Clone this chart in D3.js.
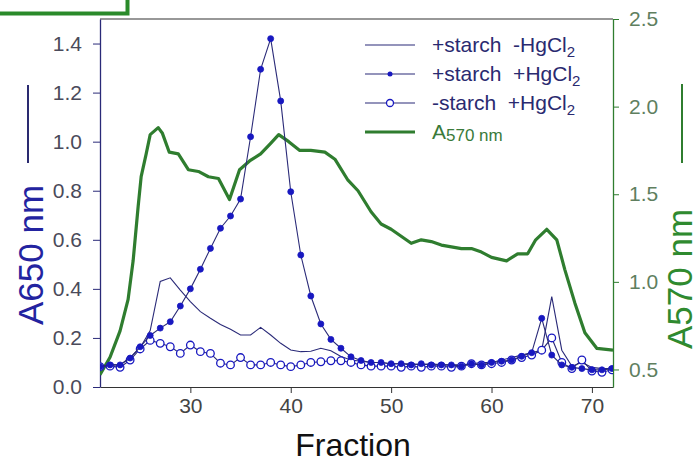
<!DOCTYPE html>
<html><head><meta charset="utf-8">
<script src="https://cdn.jsdelivr.net/npm/d3@7"></script>
<style>body{margin:0;background:#fff;} svg{display:block;font-family:"Liberation Sans",Arial,sans-serif;}</style>
</head><body><svg id="c" width="700" height="462"></svg>
<script>
// ---- data ----
const fractions = [21,22,23,24,25,26,27,28,29,30,31,32,33,34,35,36,37,38,39,40,41,42,43,44,45,46,47,48,49,50,51,52,53,54,55,56,57,58,59,60,61,62,63,64,65,66,67,68,69,70,71,72];
const starchNoHg = [0.083,0.09,0.09,0.12,0.16,0.23,0.43,0.445,0.395,0.348,
  0.307,0.28,0.255,0.235,0.212,0.212,0.243,0.212,0.178,0.151,
  0.144,0.146,0.158,0.148,0.124,0.11,0.105,0.1,0.1,0.095,
  0.095,0.095,0.09,0.095,0.09,0.09,0.09,0.095,0.1,0.1,
  0.11,0.12,0.13,0.14,0.15,0.368,0.15,0.085,0.1,0.08,
  0.075,0.075];
const starchHg = [0.083,0.09,0.09,0.118,0.164,0.21,0.24,0.266,0.33,0.40,
  0.48,0.565,0.647,0.697,0.766,1.02,1.295,1.42,1.166,0.796,
  0.538,0.371,0.257,0.194,0.158,0.123,0.108,0.10,0.10,0.095,
  0.095,0.09,0.095,0.09,0.09,0.09,0.085,0.095,0.09,0.10,
  0.105,0.11,0.125,0.14,0.28,0.13,0.09,0.08,0.075,0.07,
  0.07,0.075];
const noStarchHg = [0.083,0.085,0.08,0.11,0.155,0.19,0.178,0.164,0.137,0.171,
  0.144,0.137,0.097,0.09,0.12,0.09,0.09,0.10,0.09,0.083,
  0.09,0.10,0.103,0.107,0.107,0.10,0.09,0.085,0.085,0.085,
  0.08,0.085,0.08,0.085,0.085,0.08,0.085,0.095,0.09,0.095,
  0.10,0.11,0.12,0.13,0.15,0.20,0.10,0.075,0.11,0.065,
  0.06,0.07];
const a570Fraction = [21,22,23,23.8,24.3,24.8,25.1,25.6,26,26.8,27.2,27.9,28.8,29.8,30.8,31.8,32.8,33.9,34.9,35.9,37,38,38.8,39.8,40.9,42,43.4,44.4,45.7,46.7,48,49,50,51,52,53,54,55,56,57,58,59,60,61.5,62.6,63.6,64.4,65.5,66.5,67.3,68.3,69.3,70.5,72.1];
const a570Values = [0.47,0.57,0.72,0.9,1.12,1.43,1.6,1.73,1.84,1.88,1.85,1.74,1.73,1.64,1.63,1.60,1.59,1.47,1.64,1.69,1.73,1.79,1.84,1.80,1.75,1.75,1.74,1.70,1.58,1.52,1.40,1.33,1.30,1.26,1.22,1.24,1.23,1.21,1.20,1.19,1.19,1.17,1.14,1.12,1.16,1.16,1.24,1.30,1.24,1.07,0.88,0.71,0.62,0.61];
const xTicks = [30,40,50,60,70];
const leftTicks = [0.0,0.2,0.4,0.6,0.8,1.0,1.2,1.4];
const rightTicks = [0.5,1.0,1.5,2.0,2.5];

// ---- layout ----
const svg = d3.select("#c");
const L = 100, R = 613, T = 19, B = 387;
const navy = "#2a2a78", blue = "#1818c0", green = "#2f7d2f";
const x = d3.scaleLinear().domain([21, 72.1]).range([L, R]);
const yL = d3.scaleLinear().domain([0, 1.5]).range([B, T]);
const yR = d3.scaleLinear().domain([0.4, 2.5]).range([B, T]);

// top-left green box fragment
svg.append("rect").attr("x", -10).attr("y", -10).attr("width", 137.5).attr("height", 23.5)
  .attr("fill", "none").attr("stroke", "#2a8a2a").attr("stroke-width", 4);

// frame top
svg.append("line").attr("x1", L).attr("x2", R).attr("y1", T).attr("y2", T).attr("stroke", "#333").attr("stroke-width", 1.2);

// axes
const ax = svg.append("g").attr("transform", `translate(0,${B})`)
  .call(d3.axisBottom(x).tickValues(xTicks).tickSize(6).tickSizeOuter(0).tickPadding(5).tickFormat(d3.format("d")));
ax.select(".domain").attr("stroke", "#333").attr("stroke-width", 1.2);
ax.selectAll(".tick line").attr("stroke", "#333");
ax.selectAll("text").attr("font-size", 21).attr("fill", "#444").attr("font-family", "Liberation Sans, Arial, sans-serif");

const ayl = svg.append("g").attr("transform", `translate(${L},0)`)
  .call(d3.axisLeft(yL).tickValues(leftTicks).tickSize(7).tickSizeOuter(0).tickPadding(11).tickFormat(d3.format(".1f")));
ayl.select(".domain").attr("stroke", navy).attr("stroke-width", 1.3);
ayl.selectAll(".tick line").attr("stroke", navy);
ayl.selectAll("text").attr("font-size", 21).attr("fill", "#4a4a5a").attr("font-family", "Liberation Sans, Arial, sans-serif");

const ayr = svg.append("g").attr("transform", `translate(${R},0)`)
  .call(d3.axisRight(yR).tickValues(rightTicks).tickSize(6).tickSizeOuter(0).tickPadding(10).tickFormat(d3.format(".1f")));
ayr.select(".domain").attr("stroke", green).attr("stroke-width", 1.3);
ayr.selectAll(".tick line").attr("stroke", green);
ayr.selectAll("text").attr("font-size", 21).attr("fill", "#5f7f5f").attr("font-family", "Liberation Sans, Arial, sans-serif");

// clip
svg.append("clipPath").attr("id", "clip").append("rect").attr("x", L).attr("y", T).attr("width", R - L).attr("height", B - T);
const plot = svg.append("g").attr("clip-path", "url(#clip)");

// green A570
const gLine = d3.line().x((d, i) => x(a570Fraction[i])).y(d => yR(d));
plot.append("path").datum(a570Values).attr("d", gLine).attr("fill", "none").attr("stroke", green).attr("stroke-width", 3.2).attr("stroke-linejoin", "round");

const bLine = d3.line().x((d, i) => x(fractions[i])).y(d => yL(d));
// series 1: +starch -HgCl2
plot.append("path").datum(starchNoHg).attr("d", bLine).attr("fill", "none").attr("stroke", navy).attr("stroke-width", 1.1);
// series 3: -starch +HgCl2
plot.append("path").datum(noStarchHg).attr("d", bLine).attr("fill", "none").attr("stroke", navy).attr("stroke-width", 1.1);
plot.selectAll("circle.s3").data(noStarchHg).enter().append("circle").attr("class", "s3")
  .attr("cx", (d, i) => x(fractions[i])).attr("cy", d => yL(d)).attr("r", 3.8)
  .attr("fill", "#fff").attr("stroke", blue).attr("stroke-width", 1.3);
// series 2: +starch +HgCl2
plot.append("path").datum(starchHg).attr("d", bLine).attr("fill", "none").attr("stroke", navy).attr("stroke-width", 1.1);
plot.selectAll("circle.s2").data(starchHg).enter().append("circle").attr("class", "s2")
  .attr("cx", (d, i) => x(fractions[i])).attr("cy", d => yL(d)).attr("r", 3)
  .attr("fill", blue).attr("stroke", blue).attr("stroke-width", 0.8);

// legend
const legendLabels = ["+starch  -HgCl", "+starch  +HgCl", "-starch  +HgCl", "A"];
const lg = svg.append("g");
const rowY = [45, 74, 103, 132];
legendLabels.forEach((lab, i) => {
  const y = rowY[i];
  const col = i === 3 ? green : navy;
  lg.append("line").attr("x1", 365).attr("x2", 415).attr("y1", y).attr("y2", y)
    .attr("stroke", col).attr("stroke-width", i === 3 ? 3.2 : 1.1);
  if (i === 1) lg.append("circle").attr("cx", 390).attr("cy", y).attr("r", 2.5).attr("fill", blue);
  if (i === 2) lg.append("circle").attr("cx", 390).attr("cy", y).attr("r", 3.5).attr("fill", "#fff").attr("stroke", blue).attr("stroke-width", 1.3);
  const t = lg.append("text").attr("x", 432).attr("y", y + 7).attr("font-size", 21)
    .attr("fill", i === 3 ? "#3a7a3a" : "#2a2a70").style("white-space", "pre").text(lab);
  if (i < 3) t.append("tspan").attr("font-size", 15).attr("dy", 5).text("2");
  else t.append("tspan").attr("font-size", 17).attr("dy", 2).text("570 nm");
});

// axis titles
svg.append("text").attr("transform", "translate(43,255) rotate(-90)").attr("text-anchor", "middle")
  .attr("font-size", 35).attr("fill", "#2323a0").text("A650 nm");
svg.append("line").attr("x1", 28).attr("x2", 28).attr("y1", 85).attr("y2", 163).attr("stroke", "#2a2a70").attr("stroke-width", 2);
svg.append("text").attr("transform", "translate(692,279) rotate(-90)").attr("text-anchor", "middle")
  .attr("font-size", 35).attr("fill", "#2f8a2f").text("A570 nm");
svg.append("line").attr("x1", 682).attr("x2", 682).attr("y1", 84).attr("y2", 163).attr("stroke", green).attr("stroke-width", 2);
svg.append("text").attr("x", 353).attr("y", 456).attr("text-anchor", "middle")
  .attr("font-size", 32).attr("fill", "#111").text("Fraction");
</script></body></html>
